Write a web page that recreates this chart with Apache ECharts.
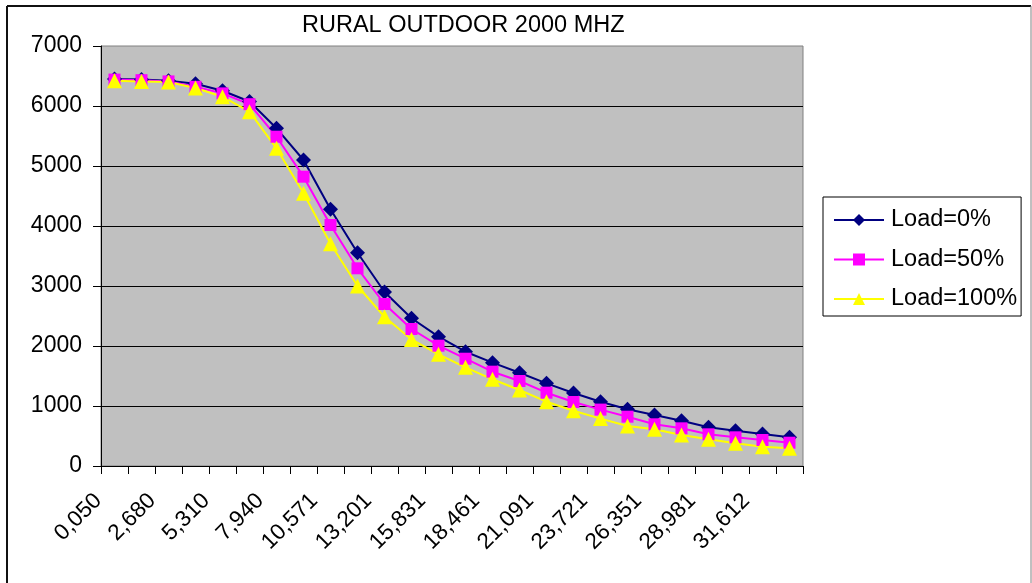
<!DOCTYPE html>
<html>
<head>
<meta charset="utf-8">
<script src="https://cdn.jsdelivr.net/npm/echarts@6/dist/echarts.min.js"></script>
<style>
html,body{margin:0;padding:0;background:#fff;}
#chart{width:1032px;height:583px;}
</style>
</head>
<body>
<div id="chart"></div>
<script>
var categories = ["0,050","1,365","2,680","3,995","5,310","6,625","7,940","9,255","10,571","11,886","13,201","14,516","15,831","17,146","18,461","19,776","21,091","22,406","23,721","25,036","26,351","27,666","28,981","30,297","31,612","32,927"];
var load0 = [6450, 6440, 6420, 6370, 6255, 6075, 5628, 5100, 4278, 3555, 2900, 2462, 2155, 1905, 1722, 1555, 1378, 1217, 1072, 945, 850, 755, 645, 588, 533, 478];
var load50 = [6440, 6430, 6410, 6320, 6210, 6030, 5488, 4822, 4017, 3295, 2700, 2283, 2005, 1788, 1572, 1417, 1222, 1067, 940, 822, 695, 628, 528, 478, 433, 388];
var load100 = [6420, 6410, 6400, 6300, 6155, 5905, 5295, 4545, 3705, 3000, 2488, 2110, 1862, 1645, 1445, 1267, 1072, 920, 790, 667, 612, 517, 445, 378, 322, 295];
var seriesNames = ["Load=0%", "Load=50%", "Load=100%"];

var FONT = "'Liberation Sans', Arial, sans-serif";
var chart = echarts.init(document.getElementById('chart'), null, {renderer: 'canvas'});
chart.setOption({
  animation: false,
  backgroundColor: '#ffffff',
  title: {
    text: 'RURAL OUTDOOR 2000 MHZ',
    left: 297, top: 9,
    textStyle: {fontFamily: FONT, fontSize: 23.5, fontWeight: 'normal', color: '#000'}
  },
  graphic: [
    {type: 'line', shape: {x1: 7, y1: 6, x2: 1031, y2: 6}, style: {stroke: '#111', lineWidth: 2}},
    {type: 'line', shape: {x1: 7, y1: 6, x2: 7, y2: 590}, style: {stroke: '#111', lineWidth: 2}},
    {type: 'line', shape: {x1: 1031, y1: 6, x2: 1031, y2: 590}, style: {stroke: '#808080', lineWidth: 1}}
  ],
  legend: {
    orient: 'vertical',
    left: 823, top: 197,
    padding: [11, 4, 5, 10],
    itemWidth: 50, itemHeight: 15, itemGap: 15.5,
    backgroundColor: '#fff',
    borderColor: '#000', borderWidth: 1,
    textStyle: {fontFamily: FONT, fontSize: 23.5, color: '#000', padding: [0, 0, 0, 2]},
    data: seriesNames
  },
  grid: {
    left: 101, right: 229, top: 46, bottom: 117,
    show: true, backgroundColor: '#C0C0C0', borderColor: '#808080', borderWidth: 1
  },
  xAxis: {
    type: 'category',
    data: categories,
    boundaryGap: true,
    axisLine: {lineStyle: {color: '#000', width: 1}},
    axisTick: {show: true, length: 8, lineStyle: {color: '#000'}, interval: 0},
    axisLabel: {
      interval: 1, rotate: 45, margin: 15,
      fontFamily: FONT, fontSize: 22.5, color: '#000',
      padding: [0, 23, 0, 0]
    },
    splitLine: {show: false}
  },
  yAxis: {
    type: 'value',
    min: 0, max: 7000, interval: 1000,
    axisLine: {show: true, lineStyle: {color: '#000', width: 1}},
    axisTick: {show: true, length: 8, lineStyle: {color: '#000'}},
    axisLabel: {margin: 19, fontFamily: FONT, fontSize: 23, color: '#000',
      formatter: function (v) { return String(v); }},
    splitLine: {show: true, showMinLine: false, showMaxLine: false, lineStyle: {color: '#000', width: 1}}
  },
  series: [
    {
      name: seriesNames[0], type: 'line', data: load0,
      symbol: 'diamond', symbolSize: 15,
      itemStyle: {color: '#000080'}, lineStyle: {color: '#000080', width: 2}
    },
    {
      name: seriesNames[1], type: 'line', data: load50,
      symbol: 'rect', symbolSize: 12,
      itemStyle: {color: '#FF00FF'}, lineStyle: {color: '#FF00FF', width: 2}
    },
    {
      name: seriesNames[2], type: 'line', data: load100,
      symbol: 'triangle', symbolSize: 15,
      itemStyle: {color: '#FFFF00'}, lineStyle: {color: '#FFFF00', width: 2}
    }
  ]
});
</script>
</body>
</html>
